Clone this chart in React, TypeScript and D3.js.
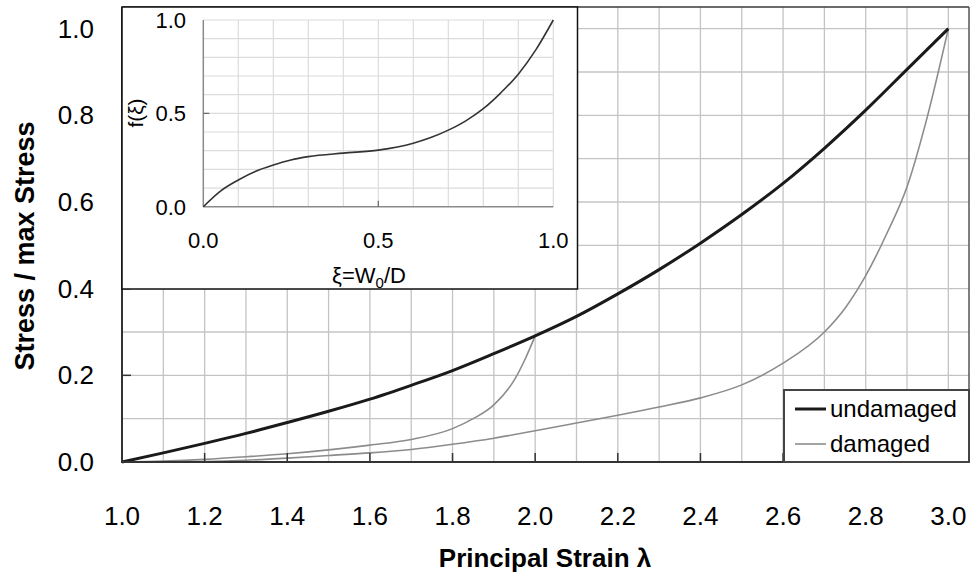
import React from "react";
import * as d3 from "d3";

const lambda = [1.0, 1.1, 1.2, 1.3, 1.4, 1.5, 1.6, 1.7, 1.8, 1.9, 2.0, 2.1, 2.2, 2.3, 2.4, 2.5, 2.6, 2.7, 2.8, 2.9, 3.0];
const undamaged = [0, 0.021, 0.043, 0.066, 0.091, 0.117, 0.145, 0.177, 0.211, 0.25, 0.291, 0.336, 0.388, 0.444, 0.505, 0.571, 0.643, 0.724, 0.812, 0.906, 1.0];

const damagedALambda = [1.0, 1.1, 1.2, 1.3, 1.4, 1.5, 1.6, 1.7, 1.8, 1.85, 1.9, 1.95, 1.975, 2.0];
const damagedA = [0, 0.002, 0.006, 0.012, 0.019, 0.028, 0.039, 0.052, 0.077, 0.1, 0.132, 0.19, 0.236, 0.291];

const damagedBLambda = [1.0, 1.1, 1.2, 1.3, 1.4, 1.5, 1.6, 1.7, 1.8, 1.9, 2.0, 2.1, 2.2, 2.3, 2.4, 2.5, 2.6, 2.7, 2.75, 2.8, 2.85, 2.9, 2.95, 3.0];
const damagedB = [0, 0, 0.001, 0.004, 0.009, 0.015, 0.021, 0.029, 0.041, 0.055, 0.072, 0.09, 0.108, 0.127, 0.148, 0.178, 0.228, 0.3, 0.355, 0.43, 0.525, 0.635, 0.8, 1.0];

const xi = [0, 0.05, 0.1, 0.15, 0.2, 0.25, 0.3, 0.4, 0.5, 0.6, 0.65, 0.7, 0.75, 0.8, 0.85, 0.9, 0.95, 1.0];
const fxi = [0, 0.085, 0.143, 0.19, 0.223, 0.25, 0.268, 0.287, 0.303, 0.34, 0.37, 0.41, 0.46, 0.525, 0.61, 0.71, 0.84, 1.0];

const xTicks = [1.0, 1.2, 1.4, 1.6, 1.8, 2.0, 2.2, 2.4, 2.6, 2.8, 3.0];
const yTicks = [0, 0.2, 0.4, 0.6, 0.8, 1.0];
const insetTicks = [0, 0.5, 1.0];

const FONT = "'Liberation Sans', Arial, Helvetica, sans-serif";

export default function App() {
  const W = 972, H = 575;
  const x = d3.scaleLinear().domain([1, 3.05]).range([122, 969]);
  const y = d3.scaleLinear().domain([0, 1.05]).range([462, 7]);
  const ix = d3.scaleLinear().domain([0, 1]).range([203.3, 553.3]);
  const iy = d3.scaleLinear().domain([0, 1]).range([206.7, 20]);

  const mainLine = (xs: number[], ys: number[]) =>
    d3.line<number>().x((d, i) => x(xs[i])).y((d) => y(d)).curve(d3.curveMonotoneX)(ys) || "";
  const insetLine =
    d3.line<number>().x((d, i) => ix(xi[i])).y((d) => iy(d)).curve(d3.curveMonotoneX)(fxi) || "";

  const xGrid = d3.range(11, 31).map((i) => i / 10);
  const yGrid = d3.range(1, 11).map((i) => i / 10);
  const iGrid = d3.range(1, 11).map((i) => i / 10);

  const [x0, x1] = x.range();
  const [y0, y1] = y.range();

  return (
    <svg width={W} height={H} style={{ position: "absolute", left: 0, top: 0, background: "#fff" }} fontFamily={FONT}>
      <rect x={0} y={0} width={W} height={H} fill="#fff" />
      {/* main grid */}
      {xGrid.map((v) => (
        <line key={"gx" + v} x1={x(v)} x2={x(v)} y1={y1} y2={y0} stroke="#c4c4c4" strokeWidth={1.3} />
      ))}
      {yGrid.map((v) => (
        <line key={"gy" + v} x1={x0} x2={x1} y1={y(v)} y2={y(v)} stroke="#c4c4c4" strokeWidth={1.3} />
      ))}
      {/* curves */}
      <path d={mainLine(damagedBLambda, damagedB)} fill="none" stroke="#8c8c8c" strokeWidth={1.6} />
      <path d={mainLine(damagedALambda, damagedA)} fill="none" stroke="#8c8c8c" strokeWidth={1.6} />
      <path d={mainLine(lambda, undamaged)} fill="none" stroke="#1a1a1a" strokeWidth={3} />
      {/* frame */}
      <line x1={x0} x2={x1} y1={y1} y2={y1} stroke="#3a3a3a" strokeWidth={1.5} />
      <line x1={x1} x2={x1} y1={y1} y2={y0} stroke="#555" strokeWidth={1.5} />
      <line x1={x0} x2={x0} y1={y1} y2={y0 + 1} stroke="#333" strokeWidth={2} />
      <line x1={x0 - 1} x2={x1} y1={y0} y2={y0} stroke="#333" strokeWidth={2} />
      {/* ticks */}
      {xTicks.map((v) => (
        <g key={"xt" + v}>
          <line x1={x(v)} x2={x(v)} y1={y0} y2={y0 - 9} stroke="#333" strokeWidth={1.5} />
          <text x={x(v)} y={525} textAnchor="middle" fontSize={26} fill="#000">
            {v.toFixed(1)}
          </text>
        </g>
      ))}
      {yTicks.map((v) => (
        <g key={"yt" + v}>
          <line x1={x0} x2={x0 + 9} y1={y(v)} y2={y(v)} stroke="#333" strokeWidth={1.5} />
          <text x={94} y={y(v) + 9} textAnchor="end" fontSize={26} fill="#000">
            {v.toFixed(1)}
          </text>
        </g>
      ))}
      <text x={545} y={567} textAnchor="middle" fontSize={26} fontWeight="bold" fill="#000">
        Principal Strain λ
      </text>
      <text transform="translate(34,246) rotate(-90)" textAnchor="middle" fontSize={27} fontWeight="bold" fill="#000">
        Stress / max Stress
      </text>

      {/* inset */}
      <rect x={122} y={7} width={455.5} height={282} fill="#fff" stroke="#111" strokeWidth={1.5} />
      {iGrid.map((v) => (
        <line key={"igx" + v} x1={ix(v)} x2={ix(v)} y1={iy(1)} y2={iy(0)} stroke="#dcdcdc" strokeWidth={1.2} />
      ))}
      {iGrid.map((v) => (
        <line key={"igy" + v} x1={ix(0)} x2={ix(1)} y1={iy(v)} y2={iy(v)} stroke="#dcdcdc" strokeWidth={1.2} />
      ))}
      <line x1={ix(0)} x2={ix(0)} y1={iy(1)} y2={iy(0)} stroke="#8a8a8a" strokeWidth={1.5} />
      <line x1={ix(0)} x2={ix(1)} y1={iy(0)} y2={iy(0)} stroke="#8a8a8a" strokeWidth={1.5} />
      <line x1={ix(0.5)} x2={ix(0.5)} y1={iy(0)} y2={iy(0) - 6} stroke="#666" strokeWidth={1.2} />
      <line x1={ix(0)} x2={ix(0) + 6} y1={iy(0.5)} y2={iy(0.5)} stroke="#666" strokeWidth={1.2} />
      <path d={insetLine} fill="none" stroke="#333" strokeWidth={1.6} />
      {insetTicks.map((v) => (
        <text key={"ixt" + v} x={ix(v)} y={248} textAnchor="middle" fontSize={22} fill="#000">
          {v.toFixed(1)}
        </text>
      ))}
      {insetTicks.map((v) => (
        <text key={"iyt" + v} x={186} y={iy(v) + 8} textAnchor="end" fontSize={22} fill="#000">
          {v.toFixed(1)}
        </text>
      ))}
      <text x={369} y={283} textAnchor="middle" fontSize={22} fill="#000">
        <tspan>ξ=W</tspan>
        <tspan dy={5} fontSize={15}>0</tspan>
        <tspan dy={-5}>/D</tspan>
      </text>
      <text transform="translate(143,113) rotate(-90)" textAnchor="middle" fontSize={21} fill="#000">
        f(ξ)
      </text>

      {/* legend */}
      <rect x={784} y={390} width={185} height={72} fill="#fff" stroke="#444" strokeWidth={2} />
      <line x1={795} x2={826} y1={409} y2={409} stroke="#1a1a1a" strokeWidth={3} />
      <text x={830} y={417} fontSize={24} fill="#000">undamaged</text>
      <line x1={795} x2={826} y1={444} y2={444} stroke="#8c8c8c" strokeWidth={1.6} />
      <text x={830} y={452} fontSize={24} fill="#000">damaged</text>
    </svg>
  );
}
